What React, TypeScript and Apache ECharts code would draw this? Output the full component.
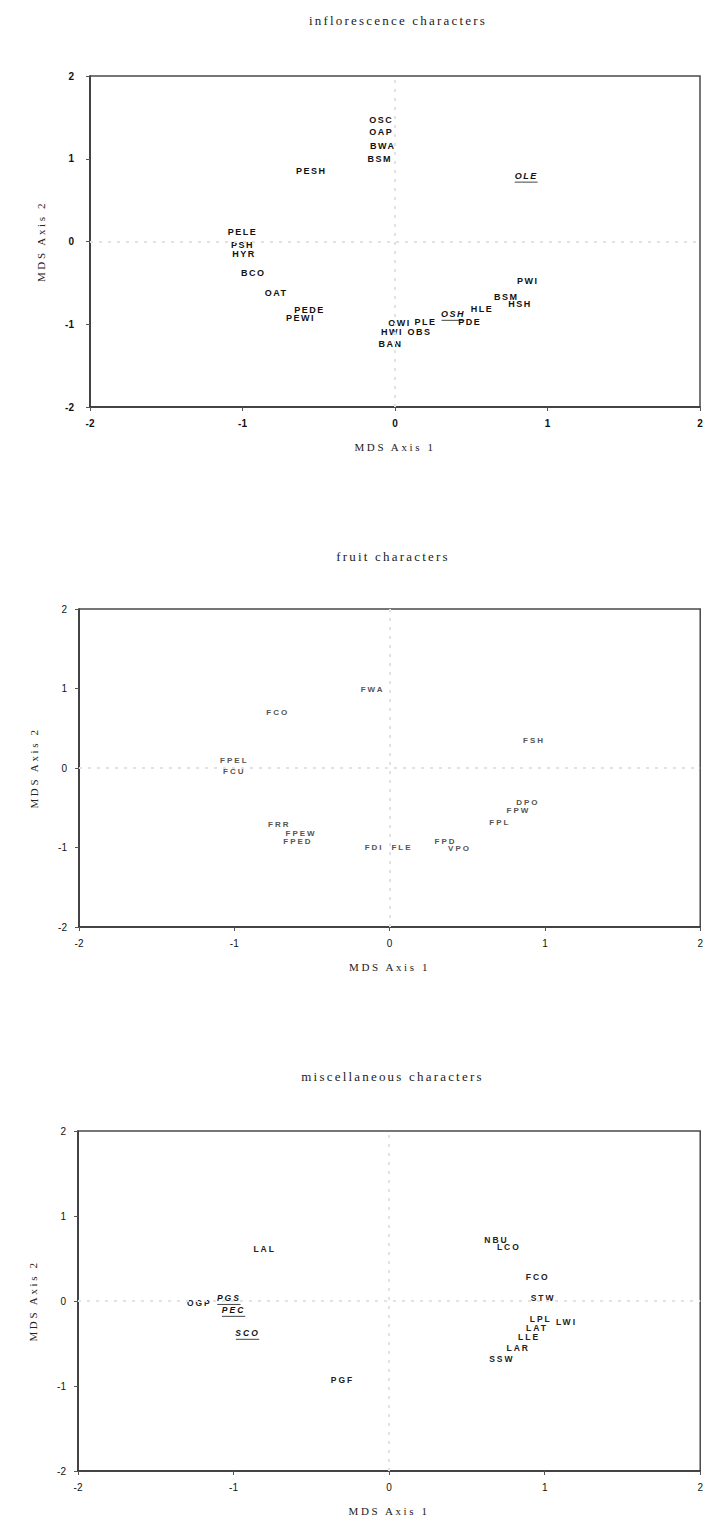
import React, { useEffect, useRef } from "react";
import * as echarts from "echarts";

// Shared axis range for the three MDS configurations
const AXIS_MIN = -2;
const AXIS_MAX = 2;

// Inflorescence characters
const inflorescenceNames = [
  "OSC", "OAP", "BWA", "BSM", "PESH", "OLE", "PELE", "PSH", "HYR", "BCO", "OAT", "PEDE",
  "PEWI", "PWI", "BSM", "HSH", "HLE", "OSH", "PDE", "PLE", "OWI", "HWI", "OBS", "BAN",
];
const inflorescenceX = [
  -0.09, -0.09, -0.08, -0.1, -0.55, 0.86, -1.0, -1.0, -0.99, -0.93, -0.78, -0.56,
  -0.62, 0.87, 0.73, 0.82, 0.57, 0.38, 0.49, 0.2, 0.03, -0.02, 0.16, -0.03,
];
const inflorescenceY = [
  1.47, 1.32, 1.16, 1.0, 0.85, 0.79, 0.11, -0.04, -0.15, -0.38, -0.62, -0.83,
  -0.92, -0.48, -0.67, -0.75, -0.81, -0.88, -0.97, -0.97, -0.99, -1.09, -1.09, -1.24,
];
const inflorescenceMarked = ["OLE", "OSH"];

// Fruit characters
const fruitNames = [
  "FWA", "FCO", "FSH", "FPEL", "FCU", "DPO", "FPW", "FPL", "FRR", "FPEW", "FPED", "FDI", "FLE", "FPD", "VPO",
];
const fruitX = [-0.11, -0.72, 0.93, -1.0, -1.0, 0.89, 0.83, 0.71, -0.71, -0.57, -0.59, -0.1, 0.08, 0.36, 0.45];
const fruitY = [0.99, 0.7, 0.35, 0.1, -0.05, -0.43, -0.53, -0.68, -0.71, -0.83, -0.93, -1.0, -1.0, -0.92, -1.01];
const fruitMarked: string[] = [];

// Miscellaneous characters
const miscNames = [
  "LAL", "NBU", "LCO", "FCO", "STW", "LPL", "LWI", "LAT", "LLE", "LAR", "SSW", "OGP", "PGS", "PEC", "SCO", "PGF",
];
const miscX = [-0.8, 0.69, 0.77, 0.955, 0.99, 0.975, 1.14, 0.95, 0.9, 0.83, 0.725, -1.22, -1.03, -1.0, -0.91, -0.3];
const miscY = [0.61, 0.72, 0.63, 0.28, 0.03, -0.21, -0.25, -0.315, -0.425, -0.55, -0.68, -0.02, 0.03, -0.11, -0.38, -0.93];
const miscMarked = ["PGS", "PEC", "SCO"];

const panelTitles = ["inflorescence characters", "fruit characters", "miscellaneous characters"];
const xAxisTitle = "MDS Axis 1";
const yAxisTitle = "MDS Axis 2";

type Panel = {
  title: string;
  names: string[];
  xs: number[];
  ys: number[];
  marked: string[];
  grid: { left: number; top: number; width: number; height: number };
  titleTop: number;
  labelSize: number;
  labelWeight: string;
  labelColor: string;
  tickWeight: string;
  yNameGap: number;
  yLabelMargin: number;
};

const panels: Panel[] = [
  {
    title: panelTitles[0], names: inflorescenceNames, xs: inflorescenceX, ys: inflorescenceY,
    marked: inflorescenceMarked,
    grid: { left: 90, top: 76, width: 610, height: 331 }, titleTop: 9,
    labelSize: 9, labelWeight: "bold", labelColor: "#111", tickWeight: "bold",
    yNameGap: 44, yLabelMargin: 16,
  },
  {
    title: panelTitles[1], names: fruitNames, xs: fruitX, ys: fruitY, marked: fruitMarked,
    grid: { left: 79, top: 609, width: 622, height: 318 }, titleTop: 545,
    labelSize: 8, labelWeight: "bold", labelColor: "#555", tickWeight: "normal",
    yNameGap: 40, yLabelMargin: 12,
  },
  {
    title: panelTitles[2], names: miscNames, xs: miscX, ys: miscY, marked: miscMarked,
    grid: { left: 78, top: 1131, width: 623, height: 340 }, titleTop: 1065,
    labelSize: 8.5, labelWeight: "bold", labelColor: "#222", tickWeight: "normal",
    yNameGap: 40, yLabelMargin: 12,
  },
];

// letter spacing (px) applied to rendered SVG text, keyed by font size
const trackingBySize: Record<string, number> = {
  "13px": 2.2,
  "11px": 2.6,
  "9px": 1.5,
  "8px": 2,
  "8.5px": 2,
};

function buildOption() {
  const grids: any[] = [];
  const xAxes: any[] = [];
  const yAxes: any[] = [];
  const titles: any[] = [];
  const series: any[] = [];

  panels.forEach((p, i) => {
    grids.push({
      ...p.grid,
      show: true,
      borderColor: "#4a4a4a",
      borderWidth: 1.5,
      backgroundColor: "transparent",
      containLabel: false,
    });
    titles.push({
      text: p.title,
      left: p.grid.left + p.grid.width / 2 - 2,
      top: p.titleTop,
      textAlign: "center",
      textStyle: { fontFamily: "Liberation Serif", fontSize: 13, fontWeight: "normal", color: "#222" },
    });
    const tickLabel = {
      fontFamily: "Liberation Sans",
      fontSize: 10,
      fontWeight: p.tickWeight,
      color: "#111",
    };
    xAxes.push({
      gridIndex: i,
      type: "value",
      min: AXIS_MIN,
      max: AXIS_MAX,
      interval: 1,
      axisLine: { show: true, onZero: false, lineStyle: { color: "#333", width: 1.5 } },
      axisTick: { show: true, length: 4, lineStyle: { color: "#555", width: 1 } },
      splitLine: { show: false },
      axisLabel: { ...tickLabel, margin: 11 },
      name: xAxisTitle,
      nameLocation: "middle",
      nameGap: 34,
      nameTextStyle: { fontFamily: "Liberation Serif", fontSize: 11, color: "#222" },
    });
    yAxes.push({
      gridIndex: i,
      type: "value",
      min: AXIS_MIN,
      max: AXIS_MAX,
      interval: 1,
      axisLine: { show: true, onZero: false, lineStyle: { color: "#333", width: 1.5 } },
      axisTick: { show: true, length: 4, lineStyle: { color: "#555", width: 1 } },
      splitLine: { show: false },
      axisLabel: { ...tickLabel, margin: p.yLabelMargin },
      name: yAxisTitle,
      nameLocation: "middle",
      nameGap: p.yNameGap,
      nameRotate: 90,
      nameTextStyle: { fontFamily: "Liberation Serif", fontSize: 11, color: "#222" },
    });

    // faint dashed reference lines through the origin
    series.push({
      type: "line",
      xAxisIndex: i,
      yAxisIndex: i,
      data: [],
      silent: true,
      markLine: {
        silent: true,
        symbol: "none",
        label: { show: false },
        lineStyle: { color: "#e2e2e2", type: [3, 6], width: 2 },
        data: [{ xAxis: 0 }, { yAxis: 0 }],
      },
    });

    // character labels placed at their MDS coordinates
    const charW = p.labelSize * 0.68 + (trackingBySize[`${p.labelSize}px`] || 0);
    series.push({
      type: "custom",
      xAxisIndex: i,
      yAxisIndex: i,
      silent: true,
      data: p.xs.map((x, k) => [x, p.ys[k]]),
      renderItem: (params: any, api: any) => {
        const name = p.names[params.dataIndex];
        const pt = api.coord([api.value(0), api.value(1)]);
        const marked = p.marked.includes(name);
        const children: any[] = [
          {
            type: "text",
            x: pt[0],
            y: pt[1],
            style: {
              text: name,
              fill: marked ? "#111" : p.labelColor,
              fontFamily: "Liberation Sans",
              fontSize: p.labelSize,
              fontWeight: marked ? "bold" : p.labelWeight,
              fontStyle: marked ? "italic" : "normal",
              align: "center",
              verticalAlign: "middle",
            },
          },
        ];
        if (marked) {
          const w = name.length * charW;
          children.push({
            type: "line",
            shape: { x1: pt[0] - w / 2, y1: pt[1] + 6, x2: pt[0] + w / 2, y2: pt[1] + 6 },
            style: { stroke: "#444", lineWidth: 1 },
          });
        }
        return { type: "group", children };
      },
    });
  });

  return {
    animation: false,
    backgroundColor: "#ffffff",
    title: titles,
    grid: grids,
    xAxis: xAxes,
    yAxis: yAxes,
    series,
  };
}

export default function App() {
  const ref = useRef<HTMLDivElement>(null);

  useEffect(() => {
    if (!ref.current) return;
    const el = ref.current;
    const chart = echarts.init(el, undefined, { renderer: "svg" });

    const applyTracking = () => {
      el.querySelectorAll("text").forEach((t) => {
        const size = getComputedStyle(t).fontSize;
        const sp = trackingBySize[size];
        if (sp) (t as SVGTextElement).style.letterSpacing = `${sp}px`;
      });
    };
    chart.on("finished", applyTracking);
    chart.setOption(buildOption());
    const timer = window.setTimeout(applyTracking, 50);

    return () => {
      window.clearTimeout(timer);
      chart.dispose();
    };
  }, []);

  return (
    <div
      ref={ref}
      style={{ position: "absolute", left: 0, top: 0, width: 706, height: 1520, background: "#fff" }}
    />
  );
}
